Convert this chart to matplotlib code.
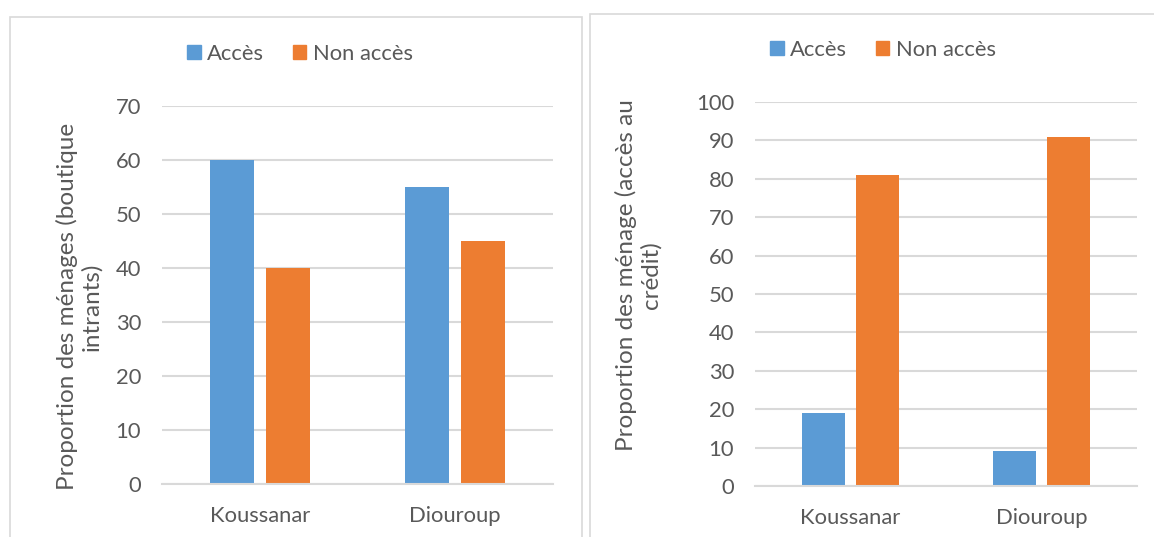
import numpy as np
import matplotlib
matplotlib.use("Agg")
from matplotlib import pyplot as plt
from matplotlib.patches import Patch, Rectangle

# data
communes = ["Koussanar", "Diouroup"]
series_names = ["Accès", "Non accès"]
boutique_acces = [60, 55]
boutique_non_acces = [40, 45]
credit_acces = [19, 9]
credit_non_acces = [81, 91]

BLUE = "#5B9BD5"
ORANGE = "#ED7D31"
GRID = "#D9D9D9"
TEXT = "#595959"

plt.rcParams["font.family"] = ["Lato", "DejaVu Sans"]
plt.rcParams["font.size"] = 15.8
plt.rcParams["text.color"] = TEXT

W, H = 1154, 537
fig = plt.figure(figsize=(W / 100, H / 100), dpi=100)


def px_box(x0, y_top, x1, y_bottom):
    # pixel box -> figure fraction [left, bottom, width, height]
    return [x0 / W, 1 - y_bottom / H, (x1 - x0) / W, (y_bottom - y_top) / H]


def draw_panel(ax, acces, non_acces, ymax, ystep, ylabel, label_xy):
    x = np.arange(len(communes))
    width = 0.225
    off = 0.142
    ax.bar(x - off, acces, width, color=BLUE)
    ax.bar(x + off, non_acces, width, color=ORANGE)
    ax.set_xlim(-0.5, len(communes) - 0.5)
    ax.set_ylim(0, ymax)
    ax.set_yticks(np.arange(0, ymax + 1, ystep))
    ax.set_xticks(x)
    ax.set_xticklabels(communes)
    ax.set_axisbelow(True)
    ax.grid(axis="y", color=GRID, linewidth=1.5)
    for side in ["top", "left", "right"]:
        ax.spines[side].set_visible(False)
    ax.spines["bottom"].set_color(GRID)
    ax.spines["bottom"].set_linewidth(1.5)
    ax.tick_params(axis="both", length=0, colors=TEXT, labelsize=15.8)
    ax.tick_params(axis="y", pad=15)
    ax.tick_params(axis="x", pad=16)
    ax.set_ylabel(ylabel, color=TEXT, fontsize=17.5, va="center", linespacing=1.15)
    ax.yaxis.set_label_coords(*label_xy)


# panel frames
fig.patches.append(Rectangle((9.5 / W, -0.05), (582 - 9.5) / W, 1 - 17 / H + 0.05,
                             transform=fig.transFigure, fill=False, ec=GRID, lw=1.2))
fig.patches.append(Rectangle((589.5 / W, -0.05), 0.6, 1 - 14 / H + 0.05,
                             transform=fig.transFigure, fill=False, ec=GRID, lw=1.2))

ax1 = fig.add_axes(px_box(162, 106, 553, 484))
draw_panel(ax1, boutique_acces, boutique_non_acces, 70, 10,
           "Proportion des ménages (boutique\nintrants)", (-0.213, 0.47))

ax2 = fig.add_axes(px_box(755, 102, 1137, 486))
draw_panel(ax2, credit_acces, credit_non_acces, 100, 10,
           "Proportion des ménage (accès au\ncrédit)", (-0.305, 0.55))

handles = [Patch(color=BLUE), Patch(color=ORANGE)]
for cx, cy in [(300, 54), (883, 50)]:
    fig.legend(handles, series_names, loc="center", bbox_to_anchor=(cx / W, 1 - cy / H),
               ncol=2, frameon=False, fontsize=15.8, handlelength=0.6, handleheight=0.6,
               handletextpad=0.3, columnspacing=1.3, labelcolor=TEXT)

fig.savefig("out.png", dpi=100)
